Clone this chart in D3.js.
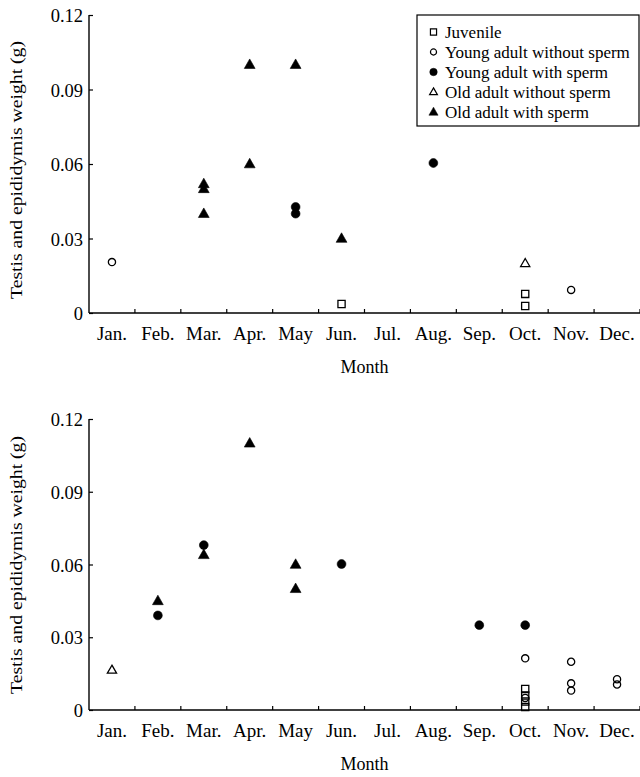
<!DOCTYPE html>
<html>
<head>
<meta charset="utf-8">
<script src="https://cdn.jsdelivr.net/npm/d3@7"></script>
<style>
  html, body { margin: 0; padding: 0; background: #fff; }
  svg { display: block; font-family: "Liberation Serif", "DejaVu Serif", serif; }
</style>
</head>
<body>
<svg id="chart" width="640" height="777"></svg>
<script>
// Categories
const MONTHS = ['Jan.', 'Feb.', 'Mar.', 'Apr.', 'May', 'Jun.', 'Jul.', 'Aug.', 'Sep.', 'Oct.', 'Nov.', 'Dec.'];
const Y_TICKS = [0, 0.03, 0.06, 0.09, 0.12];
const SERIES_NAMES = ['Juvenile', 'Young adult without sperm', 'Young adult with sperm',
                      'Old adult without sperm', 'Old adult with sperm'];

// Upper panel — [month, weight g]
const topJuvenile = [['Jun.', 0.0036], ['Oct.', 0.0077], ['Oct.', 0.0028]];
const topYoungNoSperm = [['Jan.', 0.0205], ['Nov.', 0.0093]];
const topYoungSperm = [['May', 0.0427], ['May', 0.0400], ['Aug.', 0.0604]];
const topOldNoSperm = [['Oct.', 0.0200]];
const topOldSperm = [['Mar.', 0.0520], ['Mar.', 0.0500], ['Mar.', 0.0400], ['Apr.', 0.1000],
                     ['Apr.', 0.0600], ['May', 0.1000], ['Jun.', 0.0300]];

// Lower panel
const botJuvenile = [['Oct.', 0.0087], ['Oct.', 0.0060], ['Oct.', 0.0035], ['Oct.', 0.0012]];
const botYoungNoSperm = [['Oct.', 0.0213], ['Oct.', 0.0050], ['Nov.', 0.0199], ['Nov.', 0.0110],
                         ['Nov.', 0.0080], ['Dec.', 0.0127], ['Dec.', 0.0105]];
const botYoungSperm = [['Feb.', 0.0390], ['Mar.', 0.0680], ['Jun.', 0.0602], ['Sep.', 0.0350], ['Oct.', 0.0350]];
const botOldNoSperm = [['Jan.', 0.0165]];
const botOldSperm = [['Feb.', 0.0450], ['Mar.', 0.0640], ['Apr.', 0.1100], ['May', 0.0600], ['May', 0.0500]];

// marker styles, same order as SERIES_NAMES
const MARKERS = [
  { shape: 'square',   fill: 'none' },
  { shape: 'circle',   fill: 'none' },
  { shape: 'circle',   fill: '#000' },
  { shape: 'triangle', fill: 'none' },
  { shape: 'triangle', fill: '#000' },
];

function markerPath(shape, filled, k) {
  // k: scale (1 = plot marker)
  const p = d3.path();
  if (shape === 'square') {
    const h = 3.6 * k;
    p.rect(-h, -h, 2 * h, 2 * h);
  } else if (shape === 'circle') {
    const r = (filled ? 4.4 : 3.6) * k;
    p.arc(0, 0, r, 0, 2 * Math.PI);
  } else {
    const w = (filled ? 5.4 : 4.6) * k, h = (filled ? 9.5 : 8) * k;
    p.moveTo(0, -h * 0.6); p.lineTo(w, h * 0.4); p.lineTo(-w, h * 0.4); p.closePath();
  }
  return p.toString();
}

const svg = d3.select('#chart');
const FONT_TICK = 19;

function panel(cfg, series) {
  const x = d3.scaleBand().domain(MONTHS).range([89, 640]);
  const y = d3.scaleLinear().domain([0, 0.12]).range([cfg.y0, cfg.y1]);
  const g = svg.append('g');

  const xAxis = g.append('g').attr('transform', `translate(0,${cfg.y0})`)
    .call(d3.axisBottom(x).tickSize(0).tickPadding(0));
  xAxis.select('.domain').attr('d', `M89,0H640`).attr('stroke', '#000').attr('stroke-width', 1.4);
  xAxis.selectAll('.tick text').attr('dy', null).attr('y', 26.5)
    .attr('font-size', FONT_TICK).attr('font-family', 'Liberation Serif').attr('fill', '#000');
  // inward tick marks on band boundaries
  xAxis.selectAll('line.bound').data(MONTHS.slice(1).concat(['end']))
    .enter().append('line').attr('class', 'bound')
    .attr('x1', (d, i) => x(MONTHS[0]) + (i + 1) * x.step())
    .attr('x2', (d, i) => x(MONTHS[0]) + (i + 1) * x.step())
    .attr('y1', 0).attr('y2', -4).attr('stroke', '#000').attr('stroke-width', 1.2);

  const yAxis = g.append('g').attr('transform', 'translate(89,0)')
    .call(d3.axisRight(y).tickValues(Y_TICKS).tickSize(4)
      .tickFormat(d => d === 0 ? '0' : d3.format('.2f')(d)));
  yAxis.select('.domain').attr('d', `M0,${cfg.y0}V${cfg.y1}`).attr('stroke', '#000').attr('stroke-width', 1.4);
  yAxis.selectAll('.tick line').attr('stroke', '#000').attr('stroke-width', 1.2);
  yAxis.selectAll('.tick text').attr('x', -6).attr('dy', '0.36em').attr('text-anchor', 'end')
    .attr('font-size', 18.5).attr('font-family', 'Liberation Serif').attr('fill', '#000');

  g.append('text').attr('x', (89 + 640) / 2).attr('y', cfg.y0 + 60)
    .attr('text-anchor', 'middle').attr('font-size', 18).text('Month');
  g.append('text').attr('transform', `translate(22,${cfg.titleY}) rotate(-90)`)
    .attr('text-anchor', 'middle').attr('font-size', 16)
    .attr('textLength', 258).attr('lengthAdjust', 'spacingAndGlyphs')
    .text('Testis and epididymis weight (g)');

  series.forEach((pts, si) => {
    const m = MARKERS[si];
    g.append('g').selectAll('path').data(pts).enter().append('path')
      .attr('transform', d => `translate(${x(d[0]) + x.bandwidth() / 2},${y(d[1])})`)
      .attr('d', markerPath(m.shape, m.fill !== 'none', 1))
      .attr('fill', m.fill === 'none' ? '#fff' : m.fill)
      .attr('fill-opacity', m.fill === 'none' ? 0 : 1)
      .attr('stroke', '#000').attr('stroke-width', m.fill === 'none' ? 1.3 : 0.6);
  });
  return g;
}

panel({ y0: 313, y1: 15, titleY: 170 }, [topJuvenile, topYoungNoSperm, topYoungSperm, topOldNoSperm, topOldSperm]);
panel({ y0: 710, y1: 419, titleY: 565 }, [botJuvenile, botYoungNoSperm, botYoungSperm, botOldNoSperm, botOldSperm]);

// Legend (upper panel)
const lg = svg.append('g').attr('transform', 'translate(417,15)');
lg.append('rect').attr('width', 222).attr('height', 111)
  .attr('fill', '#fff').attr('stroke', '#000').attr('stroke-width', 1.2);
const items = lg.selectAll('g.item').data(SERIES_NAMES).enter().append('g')
  .attr('transform', (d, i) => `translate(0,${17 + i * 20})`);
items.append('path')
  .attr('transform', 'translate(16.5,0)')
  .attr('d', (d, i) => markerPath(MARKERS[i].shape, MARKERS[i].fill !== 'none', 0.85))
  .attr('fill', (d, i) => MARKERS[i].fill === 'none' ? 'none' : '#000')
  .attr('stroke', '#000').attr('stroke-width', (d, i) => MARKERS[i].fill === 'none' ? 1.2 : 0.5);
items.append('text').attr('x', 28).attr('y', 5.5).attr('font-size', 17).text(d => d);
</script>
</body>
</html>
